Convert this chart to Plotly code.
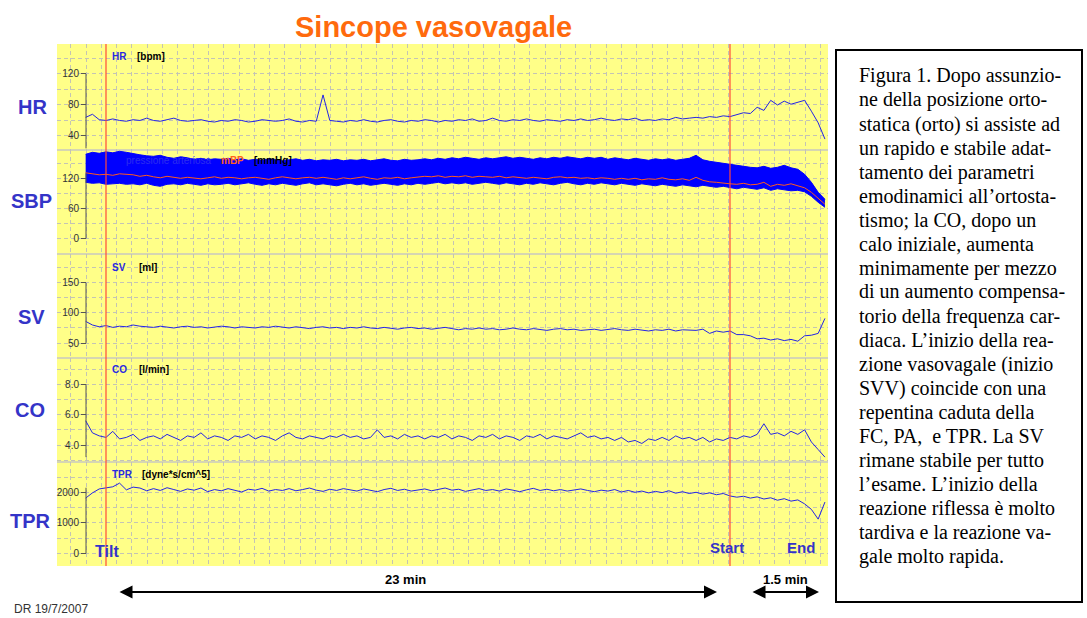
import plotly.graph_objects as go

W, H = 1087, 618
SANS = "Liberation Sans, Arial, sans-serif"
SERIF = "Liberation Serif, Times New Roman, serif"

# ---------------- data (minutes from tilt) ----------------
T0, DT = -0.75, 0.25
HR = [64, 68, 61, 60, 62, 60, 59, 61, 60, 63,
      60, 59, 61, 63, 60, 59, 60, 61, 59, 58,
      60, 59, 61, 60, 58, 59, 61, 60, 59, 60,
      62, 59, 58, 60, 59, 93, 60, 59, 58, 60,
      59, 61, 59, 58, 60, 61, 59, 58, 60, 59,
      61, 60, 58, 60, 59, 61, 60, 62, 59, 60,
      63, 60, 59, 61, 60, 62, 60, 59, 61, 60,
      59, 61, 60, 62, 60, 61, 63, 61, 60, 62,
      61, 63, 60, 61, 60, 62, 61, 64, 62, 63,
      64, 63, 65, 64, 66, 65, 67, 70, 69, 77,
      73, 86, 80, 85, 81, 84, 86, 72, 57, 36]
SBP_UP = [168, 172, 170, 173, 171, 174, 172, 169, 167, 165,
          164, 166, 162, 160, 163, 161, 158, 160, 157, 159,
          158, 160, 157, 159, 156, 158, 156, 159, 157, 155,
          157, 159, 156, 158, 155, 157, 156, 158, 155, 157,
          156, 158, 155, 157, 159, 156, 155, 158, 156, 157,
          159, 157, 160, 158, 161, 159, 162, 160, 158, 161,
          159, 161, 163, 160, 162, 160, 158, 161, 159, 162,
          160, 163, 161, 159, 162, 160, 162, 158, 161, 159,
          157, 160, 158, 156, 159, 157, 159, 156, 158, 160,
          166, 157, 154, 152, 150, 148, 145, 143, 142, 141,
          144, 140, 142, 146, 141, 138, 128, 112, 92, 78]
SBP_LO = [112, 110, 111, 108, 109, 110, 108, 109, 107, 110,
          106, 104, 108, 109, 107, 110, 108, 106, 109, 107,
          108, 110, 107, 109, 111, 108, 106, 109, 107, 110,
          108, 106, 109, 111, 107, 109, 107, 105, 108, 110,
          107, 109, 106, 108, 110, 108, 106, 109, 107, 110,
          108, 110, 112, 109, 111, 109, 111, 108, 110, 112,
          110, 108, 111, 109, 107, 110, 108, 111, 109, 107,
          110, 112, 109, 107, 110, 108, 111, 109, 107, 110,
          108, 106, 109, 107, 105, 108, 106, 104, 107, 105,
          103, 106, 104, 102, 104, 101, 99, 102, 100, 98,
          101, 96, 99, 97, 95, 96, 93, 84, 72, 62]
MBP = [131, 129, 127, 128, 126, 129, 128, 127, 124, 126,
       123, 121, 124, 122, 120, 122, 121, 119, 121, 123,
       120, 122, 121, 119, 121, 122, 120, 118, 121, 123,
       121, 119, 121, 122, 120, 122, 120, 118, 121, 119,
       121, 123, 120, 118, 121, 120, 122, 119, 121, 122,
       124, 123, 125, 122, 124, 123, 125, 122, 124, 123,
       122, 124, 121, 123, 122, 120, 122, 121, 119, 122,
       123, 121, 122, 120, 121, 119, 121, 120, 118, 120,
       118, 120, 117, 119, 118, 121, 118, 117, 119, 116,
       122, 116, 113, 112, 110, 109, 108, 110, 107, 108,
       112, 104, 108, 106, 109, 105, 101, 92, 80, 68]
SV = [86, 80, 77, 79, 76, 78, 77, 80, 78, 77,
      76, 78, 77, 75, 77, 78, 76, 77, 75, 76,
      78, 77, 75, 77, 76, 75, 77, 76, 78, 76,
      75, 77, 76, 74, 76, 77, 75, 76, 74, 76,
      75, 77, 75, 74, 76, 75, 73, 75, 76, 74,
      75, 73, 74, 76, 74, 72, 74, 73, 75, 73,
      74, 72, 73, 75, 73, 72, 74, 73, 71, 73,
      74, 72, 73, 71, 72, 73, 71, 72, 74, 72,
      71, 73, 72, 70, 72, 71, 73, 70, 72, 71,
      71, 73, 66, 70, 68, 70, 64, 64, 62, 57,
      58, 55, 57, 54, 56, 53, 62, 63, 66, 91]
CO = [5.6, 4.8, 4.6, 4.5, 4.9, 4.4, 4.5, 4.7, 4.3, 4.5,
      4.6, 4.4, 4.7, 4.5, 4.3, 4.6, 4.5, 4.8, 4.4, 4.6,
      4.5, 4.3, 4.6, 4.5, 4.7, 4.4, 4.6, 4.5, 4.3, 4.6,
      4.8, 4.5, 4.4, 4.6, 4.5, 4.4, 4.6, 4.5, 4.7, 4.5,
      4.6, 4.4, 4.5, 5.0, 4.5, 4.6, 4.4, 4.7, 4.5, 4.6,
      4.4, 4.6, 4.5, 4.7, 4.4, 4.6, 4.5, 4.3, 4.6, 4.5,
      4.7, 4.4, 4.6, 4.5, 4.3, 4.6, 4.5, 4.7, 4.4, 4.6,
      4.5, 4.4, 4.6, 4.8, 4.5, 4.6, 4.4, 4.5, 4.3, 4.5,
      4.2, 4.3, 4.1, 4.4, 4.3, 4.5, 4.3, 4.6, 4.4, 4.5,
      4.3, 4.5, 4.2, 4.4, 4.3, 4.5, 4.4, 4.6, 4.5, 4.7,
      5.4, 4.7, 4.8, 4.6, 4.9, 4.7, 5.0, 4.2, 3.7, 3.2]
TPR = [1810, 1980, 2110, 2140, 2180, 2300, 2080, 2170, 2140, 2050,
       2120, 2060, 2150, 2090, 2030, 2110, 2070, 2140, 2020, 2090,
       2050, 2120, 2060, 2010, 2100, 2070, 2130, 2040, 2090, 2060,
       2120, 2050, 2090, 2140, 2070, 2030, 2100, 2060, 2120, 2080,
       2040, 2110, 2070, 2020, 2090, 2130, 2060, 2100, 2040, 2080,
       2110, 2050, 2090, 2140, 2070, 2100, 2030, 2080, 2120, 2060,
       2090, 2040, 2110, 2070, 2020, 2080, 2130, 2060, 2100, 2050,
       2090, 2040, 2080, 2110, 2060, 2020, 2070, 2040, 2090, 2010,
       2060, 2000, 2040, 1980, 2030, 1990, 2050, 1970, 2020, 1960,
       2000, 1940, 1980, 1920, 1960, 1880, 1840, 1870, 1810, 1850,
       1780, 1820, 1740, 1790, 1710, 1750, 1620, 1440, 1120, 1680]
TIME = [T0 + DT * i for i in range(len(HR))]

EVENT_TIMES = [0.0, 23.0]          # Tilt, Start
EVENT_LABELS = ["Tilt", "Start", "End"]

PANEL_LABELS = ["HR", "SBP", "SV", "CO", "TPR"]
UNIT_LABELS = ["[bpm]", "[mmHg]", "[ml]", "[l/min]", "[dyne*s/cm^5]"]
TEXT_LINES = [
    "Figura 1. Dopo assunzio-",
    "ne della posizione orto-",
    "statica (orto) si assiste ad",
    "un rapido e stabile adat-",
    "tamento dei parametri",
    "emodinamici all\u2019ortosta-",
    "tismo; la CO, dopo un",
    "calo iniziale, aumenta",
    "minimamente per mezzo",
    "di un aumento compensa-",
    "torio della frequenza car-",
    "diaca. L\u2019inizio della rea-",
    "zione vasovagale (inizio",
    "SVV) coincide con una",
    "repentina caduta della",
    "FC, PA,  e TPR. La SV",
    "rimane stabile per tutto",
    "l\u2019esame. L\u2019inizio della",
    "reazione riflessa \u00e8 molto",
    "tardiva e la reazione va-",
    "gale molto rapida.",
]

# ---------------- geometry helpers ----------------
def px(x):
    return x / W

def py(y):
    return 1 - y / H

PX_PER_MIN = 27.13
X_TILT = 106
def t_of(xpx):
    return (xpx - X_TILT) / PX_PER_MIN

BOUNDS = [44, 150, 254, 358, 462, 566]
YELLOW = "#ffff88"
GRID = "#c4c4b4"
BLUE = "#2424e6"

AXES = [
    dict(rng=[21.9, 158.7], dtick=40, minor=20, fmt="d", line=[24, 120]),
    dict(rng=[-31.4, 176.6], dtick=60, minor=30, fmt="d", line=[0, 130]),
    dict(rng=[25, 198.3], dtick=50, minor=25, fmt="d", line=[50, 150]),
    dict(rng=[2.88, 9.73], dtick=2, minor=1, fmt=".1f", line=[3.2, 8]),
    dict(rng=[-416, 2993], dtick=1000, minor=500, fmt="d", line=[0, 2150]),
]

fig = go.Figure()

ynames = ["y", "y2", "y3", "y4", "y5"]

# traces
fig.add_trace(go.Scatter(x=TIME, y=HR, mode="lines", line=dict(color=BLUE, width=1),
                         xaxis="x", yaxis="y", hoverinfo="skip", showlegend=False))
fig.add_trace(go.Scatter(x=TIME, y=SBP_LO, mode="lines", line=dict(color="#0000ff", width=1),
                         xaxis="x", yaxis="y2", hoverinfo="skip", showlegend=False))
fig.add_trace(go.Scatter(x=TIME, y=SBP_UP, mode="lines", line=dict(color="#0000ff", width=1),
                         fill="tonexty", fillcolor="#0000ff",
                         xaxis="x", yaxis="y2", hoverinfo="skip", showlegend=False))
fig.add_trace(go.Scatter(x=TIME, y=MBP, mode="lines", line=dict(color="#ff5a1e", width=1),
                         xaxis="x", yaxis="y2", hoverinfo="skip", showlegend=False))
fig.add_trace(go.Scatter(x=TIME, y=SV, mode="lines", line=dict(color=BLUE, width=1),
                         xaxis="x", yaxis="y3", hoverinfo="skip", showlegend=False))
fig.add_trace(go.Scatter(x=TIME, y=CO, mode="lines", line=dict(color=BLUE, width=1),
                         xaxis="x", yaxis="y4", hoverinfo="skip", showlegend=False))
fig.add_trace(go.Scatter(x=TIME, y=TPR, mode="lines", line=dict(color=BLUE, width=1),
                         xaxis="x", yaxis="y5", hoverinfo="skip", showlegend=False))

layout = dict(
    width=W, height=H, margin=dict(l=0, r=0, t=0, b=0),
    paper_bgcolor="white", plot_bgcolor=YELLOW, hovermode=False, showlegend=False,
    xaxis=dict(domain=[px(57), px(828)], range=[t_of(57), t_of(828)],
               showgrid=True, gridcolor=GRID, griddash="4px,3px", gridwidth=1,
               tickmode="linear", tick0=t_of(86), dtick=15.3 / PX_PER_MIN,
               showticklabels=False, ticks="", zeroline=False, showline=False,
               fixedrange=True),
)
shapes = []
for k, (yn, a) in enumerate(zip(ynames, AXES)):
    key = "yaxis" if k == 0 else f"yaxis{k + 1}"
    layout[key] = dict(
        domain=[py(BOUNDS[k + 1]), py(BOUNDS[k])], range=a["rng"],
        anchor="free", position=px(86), side="left",
        tickmode="linear", tick0=0, dtick=a["dtick"], tickformat=a["fmt"],
        ticks="outside", ticklen=5, tickcolor="#555555", tickwidth=1,
        tickfont=dict(family=SANS, size=10, color="#333333"),
        showgrid=True, gridcolor=GRID, griddash="4px,3px", gridwidth=1,
        minor=dict(tick0=0, dtick=a["minor"], showgrid=True, gridcolor=GRID,
                   griddash="4px,3px", ticks=""),
        zeroline=False, showline=False, fixedrange=True,
    )
    # vertical axis spine between first and last tick
    shapes.append(dict(type="line", xref="x", yref=yn, x0=t_of(86), x1=t_of(86),
                       y0=a["line"][0], y1=a["line"][1],
                       line=dict(color="#555555", width=1), layer="above"))

# panel separators
for b in BOUNDS[1:-1]:
    shapes.append(dict(type="line", xref="paper", yref="paper", x0=px(57), x1=px(828),
                       y0=py(b), y1=py(b), line=dict(color="#c8c8c0", width=1.5), layer="below"))
# event lines
for t in EVENT_TIMES:
    shapes.append(dict(type="line", xref="x", yref="paper", x0=t, x1=t,
                       y0=py(566), y1=py(44), line=dict(color="#ff4a3a", width=1.2), layer="above"))
# text frame
shapes.append(dict(type="rect", xref="paper", yref="paper", x0=px(836), x1=px(1082),
                   y0=py(602), y1=py(50), line=dict(color="black", width=2)))
layout["shapes"] = shapes

anns = []
def ann(text, x, y, size, color, family=SANS, xanchor="center", yanchor="middle"):
    anns.append(dict(text=text, x=px(x), y=py(y), xref="paper", yref="paper",
                     showarrow=False, xanchor=xanchor, yanchor=yanchor,
                     font=dict(family=family, size=size, color=color)))

ann("<b>Sincope vasovagale</b>", 433, 27, 29, "#ff6a0d")
BIG_POS = [(32, 107), (31, 201), (31, 317), (30, 410), (30, 521)]
for lab, (x, y) in zip(PANEL_LABELS, BIG_POS):
    ann(f"<b>{lab}</b>", x, y, 20, "#3434c8")

# small in-panel labels
ann("<b>HR</b>", 110, 57, 10, "#2a2ae0", xanchor="left")
ann(f"<b>{UNIT_LABELS[0]}</b>", 135, 57, 10, "black", xanchor="left")
ann("pressione arteriosa", 213, 160, 10, "#2c2cf0", xanchor="right")
ann("<b>mBP</b>", 219, 160, 10, "#ff6020", xanchor="left")
ann(f"<b>{UNIT_LABELS[1]}</b>", 252, 160, 10, "black", xanchor="left")
ann("<b>SV</b>", 110, 267, 10, "#2a2ae0", xanchor="left")
ann(f"<b>{UNIT_LABELS[2]}</b>", 137, 267, 10, "black", xanchor="left")
ann("<b>CO</b>", 110, 369, 10, "#2a2ae0", xanchor="left")
ann(f"<b>{UNIT_LABELS[3]}</b>", 137, 369, 10, "black", xanchor="left")
ann("<b>TPR</b>", 110, 474, 10, "#2a2ae0", xanchor="left")
ann(f"<b>{UNIT_LABELS[4]}</b>", 140, 474, 10, "black", xanchor="left")

# event labels
for lab, (x, y) in zip(EVENT_LABELS, [(107, 551), (727, 547), (801, 547)]):
    ann(f"<b>{lab}</b>", x, y, 16 if lab == "Tilt" else 15, "#3434c8")

# durations
ann("<b>23 min</b>", 405, 579, 13, "black")
ann("<b>1.5 min</b>", 785, 579, 13, "black")
for x_end, x_start in [(717, 118), (819, 751)]:
    anns.append(dict(text="", x=px(x_end), y=py(592), xref="paper", yref="paper",
                     showarrow=True, ax=-(x_end - x_start), ay=0, axref="pixel", ayref="pixel",
                     arrowside="end+start", arrowhead=2, arrowsize=1.3, arrowwidth=2,
                     arrowcolor="black"))

ann("DR 19/7/2007", 12, 609, 12, "#333333", xanchor="left")

# caption text
for k, line in enumerate(TEXT_LINES):
    ann(line, 857, 76 + 24.0 * k, 20, "black", family=SERIF, xanchor="left")

layout["annotations"] = anns
fig.update_layout(**layout)
fig.write_html("out.html", config={"displayModeBar": False},
               post_script="document.body.style.margin='0';document.body.style.overflow='hidden';")
